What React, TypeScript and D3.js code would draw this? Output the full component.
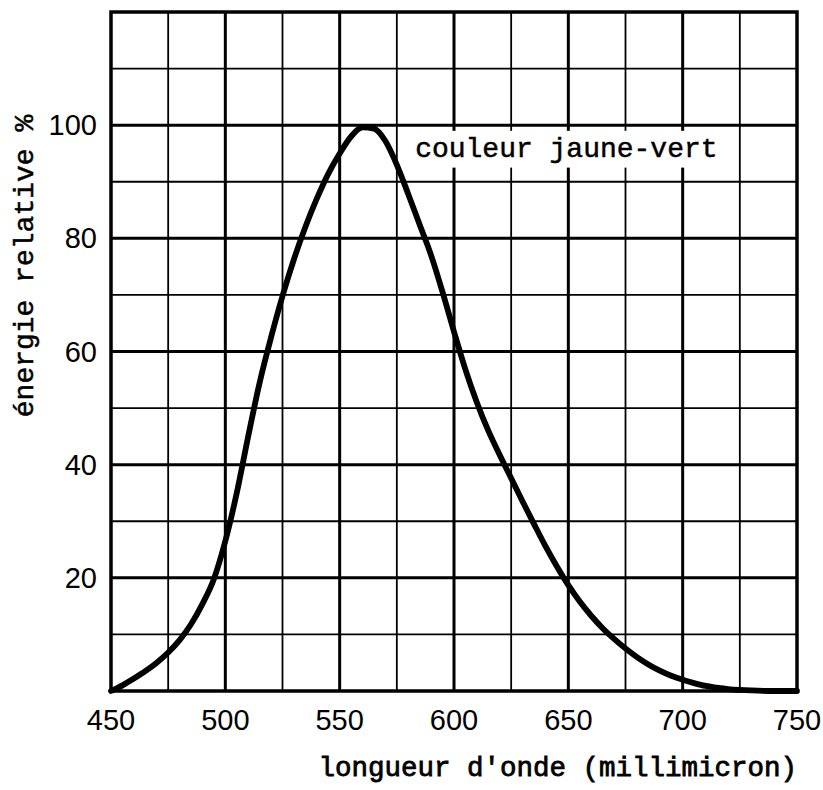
import { useRef, useEffect } from 'react';
import * as d3 from 'd3';

// relative energy of the yellow-green light, every 5 millimicron
const wavelengths = [450, 455, 460, 465, 470, 475, 480, 485, 490, 495, 500, 505, 510, 515, 520, 525, 530, 535, 540, 545, 550, 555, 560, 565, 570, 575, 580, 585, 590, 595, 600, 605, 610, 615, 620, 625, 630, 635, 640, 645, 650, 655, 660, 665, 670, 675, 680, 685, 690, 695, 700, 705, 710, 715, 720, 725, 730, 740, 750];
const energy = [0, 1, 2.2, 3.5, 5, 6.8, 9, 11.8, 15.4, 19.8, 26.5, 35, 45, 54.5, 62.5, 69.8, 76.3, 82, 87, 91.4, 95, 98, 99.6, 99.4, 97.2, 93, 87.8, 82.4, 77, 70.5, 63.5, 56.8, 51, 46, 41.7, 37.6, 33.5, 29.5, 25.6, 22, 18.7, 15.8, 13.3, 11.1, 9.2, 7.5, 6, 4.7, 3.6, 2.7, 2, 1.4, 0.9, 0.6, 0.35, 0.2, 0.1, 0, 0];

const xTicks = [450, 500, 550, 600, 650, 700, 750];
const yTicks = [20, 40, 60, 80, 100];
const xGrid = [475, 500, 525, 550, 575, 600, 625, 650, 675, 700, 725];
const yGrid = [10, 20, 30, 40, 50, 60, 70, 80, 90, 100, 110];

const curveLabel = 'couleur jaune-vert';
const xTitle = "longueur d'onde (millimicron)";
const yTitle = 'énergie relative %';

export default function App() {
  const svgRef = useRef(null);
  const width = 823;
  const height = 790;
  const margin = { left: 111, right: 26, top: 12, bottom: 99 };

  function renderChart() {
    const svg = d3.select(svgRef.current);
    svg.selectAll('*').remove();

    const x = d3.scaleLinear().domain([450, 750]).range([margin.left, width - margin.right]);
    const y = d3.scaleLinear().domain([0, 120]).range([height - margin.bottom, margin.top]);

    const grid = svg.append('g').attr('stroke', '#000');
    grid.selectAll('line.v')
      .data(xGrid)
      .join('line')
      .attr('class', 'v')
      .attr('x1', (d) => x(d)).attr('x2', (d) => x(d))
      .attr('y1', y(0)).attr('y2', y(120))
      .attr('stroke-width', (d) => (d % 50 === 0 ? 3 : 1.8));
    grid.selectAll('line.h')
      .data(yGrid)
      .join('line')
      .attr('class', 'h')
      .attr('x1', x(450)).attr('x2', x(750))
      .attr('y1', (d) => y(d)).attr('y2', (d) => y(d))
      .attr('stroke-width', (d) => (d % 20 === 0 ? 3 : 1.8));

    // white patch behind the label
    svg.append('rect')
      .attr('x', x(588)).attr('y', y(99))
      .attr('width', x(719) - x(588)).attr('height', y(92.5) - y(99))
      .attr('fill', '#fff');

    svg.append('rect')
      .attr('x', x(450)).attr('y', y(120))
      .attr('width', x(750) - x(450)).attr('height', y(0) - y(120))
      .attr('fill', 'none').attr('stroke', '#000').attr('stroke-width', 3.5);

    const line = d3.line()
      .x((d) => x(d[0]))
      .y((d) => y(d[1]))
      .curve(d3.curveMonotoneX);

    svg.append('path')
      .datum(wavelengths.map((w, i) => [w, energy[i]]))
      .attr('d', line)
      .attr('fill', 'none')
      .attr('stroke', '#000')
      .attr('stroke-width', 5.8)
      .attr('stroke-linecap', 'round')
      .attr('stroke-linejoin', 'round');

    const mono = '"Liberation Mono", monospace';
    const sans = '"Liberation Sans", sans-serif';

    svg.append('text')
      .attr('x', x(583))
      .attr('y', y(94.3))
      .attr('font-family', mono)
      .attr('font-size', 28)
      .attr('stroke', '#000').attr('stroke-width', 0.5)
      .text(curveLabel);

    svg.append('g')
      .selectAll('text')
      .data(xTicks)
      .join('text')
      .attr('x', (d) => x(d))
      .attr('y', 730)
      .attr('text-anchor', 'middle')
      .attr('font-family', sans)
      .attr('font-size', 29)
      .text((d) => d);

    svg.append('g')
      .selectAll('text')
      .data(yTicks)
      .join('text')
      .attr('x', 97)
      .attr('y', (d) => y(d))
      .attr('dy', '0.35em')
      .attr('text-anchor', 'end')
      .attr('font-family', sans)
      .attr('font-size', 29)
      .text((d) => d);

    svg.append('text')
      .attr('x', 797)
      .attr('y', 776)
      .attr('text-anchor', 'end')
      .attr('font-family', mono)
      .attr('font-size', 27.5)
      .attr('stroke', '#000').attr('stroke-width', 0.8)
      .text(xTitle);

    svg.append('text')
      .attr('transform', 'translate(33,266) rotate(-90)')
      .attr('text-anchor', 'middle')
      .attr('font-family', mono)
      .attr('font-size', 28)
      .attr('stroke', '#000').attr('stroke-width', 0.5)
      .text(yTitle);
  }

  useEffect(() => {
    renderChart();
  }, []);

  return (
    <div>
      <svg ref={svgRef} width={width} height={height} style={{ position: 'absolute', left: 0, top: 0, background: '#fff' }} />
    </div>
  );
}
